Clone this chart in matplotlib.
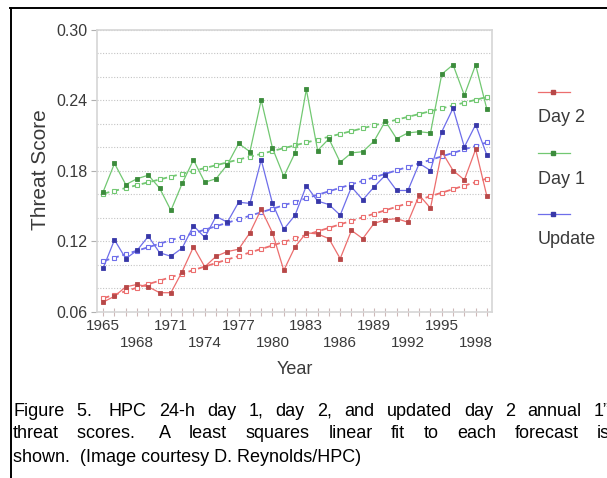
import numpy as np
import matplotlib
matplotlib.use("Agg")
import matplotlib.pyplot as plt
from matplotlib.lines import Line2D

plt.rcParams["font.family"] = ["Liberation Sans", "DejaVu Sans"]

# ---- data -------------------------------------------------------------
years = list(range(1965, 2000))

day2 = [0.068, 0.073, 0.081, 0.083, 0.081, 0.076, 0.076, 0.094, 0.115, 0.098,
        0.107, 0.111, 0.113, 0.127, 0.147, 0.127, 0.095, 0.115, 0.127, 0.126,
        0.122, 0.105, 0.129, 0.122, 0.135, 0.138, 0.139, 0.136, 0.159, 0.148,
        0.196, 0.180, 0.172, 0.198, 0.158]

day1 = [0.162, 0.186, 0.168, 0.173, 0.176, 0.165, 0.146, 0.169, 0.189, 0.170,
        0.173, 0.185, 0.203, 0.196, 0.240, 0.199, 0.175, 0.195, 0.249, 0.197,
        0.207, 0.187, 0.195, 0.196, 0.205, 0.222, 0.207, 0.212, 0.213, 0.212,
        0.262, 0.270, 0.244, 0.270, 0.232]

update = [0.097, 0.121, 0.105, 0.112, 0.124, 0.110, 0.107, 0.114, 0.133, 0.123,
          0.141, 0.136, 0.153, 0.152, 0.189, 0.152, 0.130, 0.142, 0.167, 0.154,
          0.151, 0.142, 0.166, 0.155, 0.166, 0.176, 0.163, 0.163, 0.186, 0.180,
          0.213, 0.233, 0.200, 0.219, 0.193]

series_names = ["Day 2", "Day 1", "Update"]
year_labels = [str(y) for y in range(1965, 1999, 3)]
y_tick_values = [0.06, 0.12, 0.18, 0.24, 0.30]

caption_lines = [
    "Figure 5.  HPC 24-h day 1, day 2, and updated day 2 annual 1\u201d",
    "threat scores.  A least squares linear fit to each forecast is",
    "shown.  (Image courtesy D. Reynolds/HPC)",
]

# ---- styling ----------------------------------------------------------
W, H = 607, 478
line_col = {"Day 2": "#ec6e6e", "Day 1": "#72c872", "Update": "#6e6eea"}
mark_col = {"Day 2": "#b84848", "Day 1": "#3c8c3c", "Update": "#3838a8"}
text_col = "#3a3a3a"

fig = plt.figure(figsize=(W / 100, H / 100), dpi=100)
fig.patch.set_facecolor("white")


def px(x, y):
    """Pixel position (from top-left) to figure fraction."""
    return x / W, 1 - y / H


ax = fig.add_axes([97 / W, 1 - 311.5 / H, (492 - 97) / W, (311.5 - 29.5) / H])

x = np.array(years, dtype=float)
for name, vals in zip(series_names, [day2, day1, update]):
    v = np.array(vals)
    # yearly scores
    ax.plot(x, v, color=line_col[name], lw=0.9, marker="s", ms=3.3,
            mfc=mark_col[name], mec=mark_col[name], mew=0.6, zorder=3)
    # least squares linear fit
    slope, icpt = np.polyfit(x, v, 1)
    ax.plot(x, slope * x + icpt, color=line_col[name], lw=1.3,
            dashes=(3.5, 2.0), marker="s", ms=3.0, mfc="#ffffff",
            mec=line_col[name], mew=0.8, zorder=2)

ax.set_xlim(1964.45, 1999.45)
ax.set_ylim(0.06, 0.30)

# y axis: labelled every 0.06, dotted grid every 0.02
ax.set_yticks(y_tick_values)
ax.set_yticklabels([f"{v:.2f}" for v in y_tick_values])
ax.set_yticks(np.arange(0.06, 0.3001, 0.02), minor=True)
ax.grid(True, axis="y", which="both", color="#c4c4c4", ls=(0, (1, 1.5)), lw=0.8)
ax.tick_params(axis="y", which="major", direction="out", length=4, width=0.8,
               color="#b0b0b0", labelsize=11.5, labelcolor=text_col, pad=3)
ax.tick_params(axis="y", which="minor", length=0)

# x axis: a tick every year, labels every third year on two staggered rows
ax.set_xticks(years)
labels = []
for yr in years:
    s = str(yr)
    if s in year_labels:
        k = year_labels.index(s)
        labels.append(s if k % 2 == 0 else "\n" + s)
    else:
        labels.append("")
ax.set_xticklabels(labels)
for t in ax.get_xticklabels():
    t.set_linespacing(1.3)
ax.tick_params(axis="x", direction="inout", length=6, width=0.8,
               color="#cdb8b8", labelsize=11, labelcolor=text_col, pad=2.5)

for sp in ax.spines.values():
    sp.set_color("#d6d6d6")
    sp.set_linewidth(1.2)
ax.set_axisbelow(True)

fig.text(*px(40, 170), "Threat Score", rotation=90, ha="center", va="center",
         fontsize=15, color=text_col)
fig.text(*px(295, 370), "Year", ha="center", va="center", fontsize=13,
         color=text_col)

# legend: sample line above each label
for i, name in enumerate(series_names):
    hy = 92 + 61 * i
    ly = 118 + 61 * i
    fig.add_artist(Line2D([538 / W, 570 / W], [1 - hy / H, 1 - hy / H],
                          transform=fig.transFigure, color=line_col[name],
                          lw=0.9))
    fig.add_artist(Line2D([553 / W], [1 - hy / H], transform=fig.transFigure,
                          marker="s", ms=3.3, mfc=mark_col[name],
                          mec=mark_col[name], lw=0))
    fig.text(*px(538, ly), name, ha="left", va="center", fontsize=13,
             color=text_col)

# frame around the figure block
fig.add_artist(Line2D([10 / W, 1.0], [1 - 7.5 / H, 1 - 7.5 / H],
                      transform=fig.transFigure, color="black", lw=1.4))
fig.add_artist(Line2D([10.5 / W, 10.5 / W], [0.0, 1 - 7.5 / H],
                      transform=fig.transFigure, color="black", lw=1.4))

# caption, justified on the first two lines
fig.canvas.draw()
renderer = fig.canvas.get_renderer()
cap_kw = dict(fontsize=13, color="black", va="baseline", ha="left")
x_left, x_right = 13, 610
baselines = [415.5, 438.5, 461.5]
for i, line in enumerate(caption_lines):
    if i == len(caption_lines) - 1:
        fig.text(*px(x_left, baselines[i]), line, **cap_kw)
        continue
    words = line.replace(".  ", ".\u00a0 ").split(" ")
    words = [w.replace("\u00a0", " ") for w in words if w]
    texts = [fig.text(0, 0, w, **cap_kw) for w in words]
    widths = [t.get_window_extent(renderer).width for t in texts]
    gap = (x_right - x_left - sum(widths)) / (len(words) - 1)
    xp = x_left
    for t, w in zip(texts, widths):
        t.set_position(px(xp, baselines[i]))
        xp += w + gap

fig.savefig("out.png", dpi=100)
